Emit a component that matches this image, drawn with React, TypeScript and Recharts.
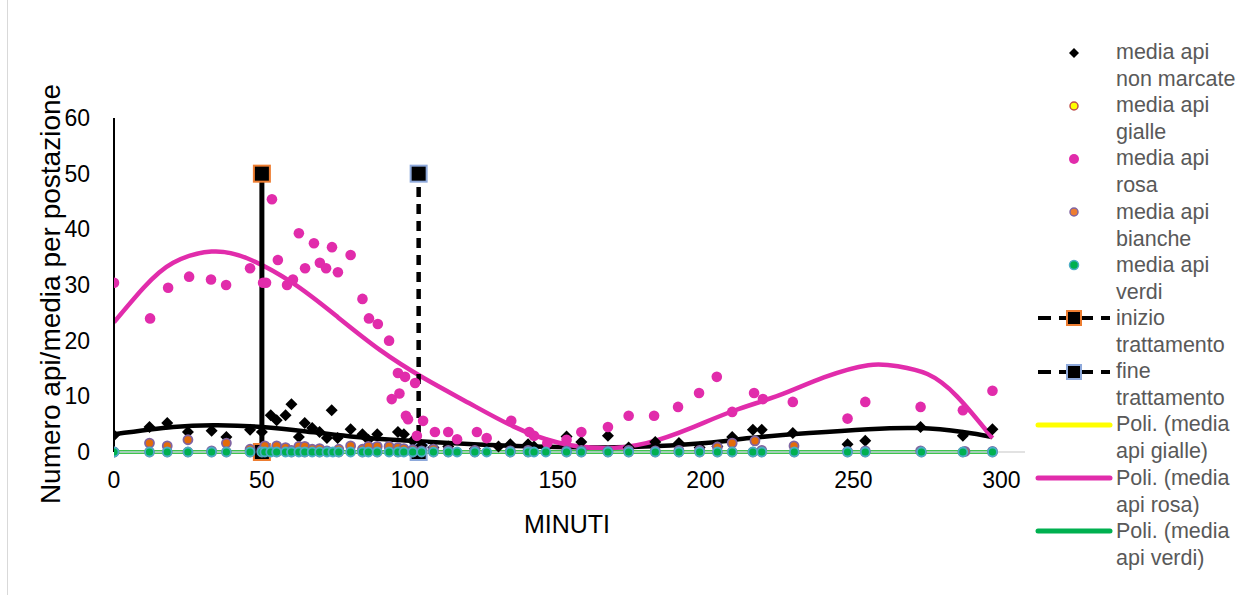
import { ComposedChart, Scatter, Line, XAxis, YAxis, Legend } from 'recharts';

type Pt = [number, number];

const FONT = "'Liberation Sans', Arial, sans-serif";

const xTicks = [0, 50, 100, 150, 200, 250, 300];
const yTicks = [0, 10, 20, 30, 40, 50, 60];
const xTitle = 'MINUTI';
const yTitle = 'Numero api/media per postazione';

const nonMarcate: Pt[] = [
  [0, 3], [12, 4.5], [18, 5.2], [25, 3.6], [33, 3.8], [38, 2.7], [46, 4], [50, 3.6], [53, 6.6], [55, 5.7],
  [58, 6.6], [60, 8.6], [62.5, 2.7], [64.5, 5.2], [67, 4.3], [69.5, 3.6], [72, 2.5], [73.6, 7.5], [75.6, 2.5],
  [80, 4.1], [84, 3.2], [86, 2.2], [89, 3.2], [96, 3.6], [98, 3.2], [101, 2], [104, 1.2], [108, 0.8], [113, 1],
  [122, 0.6], [130, 1], [134, 1.4], [140, 1.4], [142, 1], [153, 2.8], [158, 1.8], [167, 2.9], [174, 0.8],
  [183, 1.8], [191, 1.6], [198, 0.8], [204, 1], [209, 2.7], [216, 4], [219, 4], [229.5, 3.4], [248, 1.4],
  [254, 2], [272.7, 4.5], [287, 2.9], [297, 4.1],
];

const rosa: Pt[] = [
  [0, 30.4], [12.2, 24], [18.3, 29.5], [25.4, 31.5], [32.8, 31], [37.9, 30], [46, 33], [50.4, 30.4], [51.4, 30.4],
  [53.4, 45.4], [55.4, 34.5], [58.5, 30], [60.5, 31], [62.5, 39.3], [64.6, 33], [67.6, 37.5], [69.6, 34],
  [71.7, 33], [73.7, 36.8], [75.7, 32.3], [80, 35.4], [84, 27.5], [86.2, 24], [89.2, 23], [93, 20], [93.9, 9.5],
  [96.5, 10.5], [96, 14.2], [98.4, 13.5], [98.7, 6.5], [99.4, 5.9], [101.8, 12.4], [102.4, 2.9], [104.5, 5.6],
  [108.5, 3.6], [113, 3.6], [116, 2.3], [122.7, 3.6], [126, 2.5], [134.3, 5.6], [140.4, 3.6], [142, 2.9],
  [146.5, 1.6], [153, 2.2], [158, 3.6], [167, 4.5], [174, 6.5], [182.6, 6.5], [190.7, 8.1], [197.8, 10.6],
  [203.8, 13.5], [209, 7.2], [216.4, 10.6], [219.4, 9.5], [229.5, 9], [248, 6], [254, 9], [272.7, 8.1],
  [287, 7.5], [297, 11],
];

const bianche: Pt[] = [
  [0, 0], [12, 1.6], [18, 1.1], [25, 2.2], [33, 0.2], [38, 1.6], [46, 0.5], [50, 0.3], [51, 1.1], [55, 1.1],
  [58, 0.8], [60, 0.3], [62.5, 1], [64.5, 1], [67, 0.5], [69.5, 0.6], [72, 0.2], [76, 0.5], [80, 1.1], [84, 0.5],
  [86, 1], [89, 1], [93, 1], [96, 0.8], [98, 0.6], [101, 0.4], [104, 0.2], [108, 0.5], [113, 0.3], [122, 0.3],
  [134, 0.2], [140, 0.3], [153, 0.2], [158, 0.3], [167, 0.2], [174, 0.3], [183, 0.2], [191, 0.3], [198, 0.3],
  [204, 0.9], [209, 1.6], [216.7, 2], [219, 0.3], [229.9, 1.1], [248, 0.1], [254, 0.2], [272.7, 0.2],
  [287.7, 0.1], [297, 0.1],
];

const gialle: Pt[] = [
  [0, 0], [12, 0], [18, 0], [25, 0], [33, 0], [38, 0], [46, 0], [50, 0], [55, 0], [60, 0], [64.5, 0], [69.5, 0],
  [76, 0], [84, 0], [89, 0], [96, 0], [101, 0], [108, 0], [113, 0], [122, 0], [134, 0], [140, 0], [153, 0],
  [158, 0], [167, 0], [174, 0], [183, 0], [191, 0], [198, 0], [204, 0], [209, 0], [216, 0], [219, 0], [230, 0],
  [248, 0], [254, 0], [273, 0], [287, 0], [297, 0],
];

const verdi: Pt[] = [
  [0, 0], [12, 0], [18, 0], [25, 0], [33, 0], [38, 0], [46, 0], [50, 0], [51, 0], [53, 0], [55, 0], [58, 0],
  [60, 0], [62.5, 0], [64.5, 0], [67, 0], [69.5, 0], [72, 0], [74, 0], [76, 0], [80, 0], [84, 0], [86, 0],
  [89, 0], [93, 0], [96, 0], [98, 0], [101, 0], [104, 0], [108, 0], [113, 0], [116, 0], [122, 0], [126, 0],
  [134, 0], [140, 0], [142, 0], [146, 0], [153, 0], [158, 0], [167, 0], [174, 0], [183, 0], [191, 0], [198, 0],
  [204, 0], [209, 0], [216, 0], [219, 0], [230, 0], [248, 0], [254, 0], [273, 0], [287, 0], [297, 0],
];

const inizio: Pt[] = [[50, 0], [50, 50]];
const fine: Pt[] = [[103, 0], [103, 50]];

// trend lines
const trendNonMarcate: Pt[] = [
  [0, 3.2], [20, 4.5], [35, 4.8], [50, 4.5], [65, 3.7], [80, 2.8], [100, 2], [125, 1.3], [150, 0.9],
  [175, 0.9], [200, 1.6], [215, 2.5], [235, 3.4], [255, 4.1], [272, 4.3], [287, 3.6], [297, 2.7],
];
const trendGialle: Pt[] = [[0, 0], [150, 0], [297, 0]];
const trendRosa: Pt[] = [
  [0, 23.3], [10, 29.5], [20, 34], [33, 36], [45, 34.8], [60, 30.5], [75, 24.5], [90, 18.3], [105, 13.2],
  [120, 8.8], [135, 4.6], [150, 1.7], [165, 0.7], [180, 1.6], [195, 4.3], [210, 7.5], [225, 10.2], [240, 13.4],
  [255, 15.6], [265, 15.4], [275, 14], [285, 10], [297, 2.5],
];
const trendVerdi: Pt[] = [[0, 0], [150, 0], [297, 0]];

const legendLabels: [string, string][] = [
  ['media api', 'non marcate'],
  ['media api', 'gialle'],
  ['media api', 'rosa'],
  ['media api', 'bianche'],
  ['media api', 'verdi'],
  ['inizio', 'trattamento'],
  ['fine', 'trattamento'],
  ['Poli. (media', 'api gialle)'],
  ['Poli. (media', 'api rosa)'],
  ['Poli. (media', 'api verdi)'],
];

const PINK = '#E12CAB';
const GREEN = '#00B050';

const toXY = (pts: Pt[]) => pts.map(([x, y]) => ({ x, y }));

const diamond = (s: number) => (p: any) => (
  <polygon
    points={`${p.cx},${p.cy - s} ${p.cx + s},${p.cy} ${p.cx},${p.cy + s} ${p.cx - s},${p.cy}`}
    fill="#000"
  />
);
const dot = (fill: string, stroke: string, r: number, sw: number) => (p: any) => (
  <circle cx={p.cx} cy={p.cy} r={r} fill={fill} stroke={stroke} strokeWidth={sw} />
);
const square = (stroke: string) => (p: any) => (
  <rect x={p.cx - 8} y={p.cy - 8} width={16} height={16} fill="#000" stroke={stroke} strokeWidth={2} />
);

function LegendIcon({ i }: { i: number }) {
  const dash = (c: string) => (
    <>
      <line x1={4} y1={13} x2={76} y2={13} stroke="#000" strokeWidth={4} strokeDasharray="13 8" />
      <rect x={33} y={6} width={14} height={14} fill="#000" stroke={c} strokeWidth={2} />
    </>
  );
  const icons = [
    <polygon key="a" points="40,8 45,13 40,18 35,13" fill="#000" />,
    <circle key="b" cx={40} cy={13} r={4} fill="#FFFF00" stroke="#C0504D" strokeWidth={1.5} />,
    <circle key="c" cx={40} cy={13} r={5} fill={PINK} />,
    <circle key="d" cx={40} cy={13} r={4} fill="#ED7D31" stroke="#8064A2" strokeWidth={1.5} />,
    <circle key="e" cx={40} cy={13} r={4.5} fill={GREEN} stroke="#4BACC6" strokeWidth={1.5} />,
    dash('#ED7D31'),
    dash('#8EA9DB'),
    <line key="h" x1={4} y1={13} x2={76} y2={13} stroke="#FFFF00" strokeWidth={5} strokeLinecap="round" />,
    <line key="i" x1={4} y1={13} x2={76} y2={13} stroke={PINK} strokeWidth={5} strokeLinecap="round" />,
    <line key="j" x1={4} y1={13} x2={76} y2={13} stroke={GREEN} strokeWidth={5} strokeLinecap="round" />,
  ];
  return (
    <svg width={80} height={26} style={{ display: 'block', overflow: 'visible' }}>
      {icons[i]}
    </svg>
  );
}

function LegendBox() {
  return (
    <div style={{ fontFamily: FONT, fontSize: 21.5, color: '#595959', lineHeight: '27px' }}>
      {legendLabels.map(([a, b], i) => (
        <div key={i} style={{ display: 'flex', alignItems: 'flex-start', height: 53.2 }}>
          <div style={{ width: 82, height: 27, display: 'flex', alignItems: 'center' }}>
            <LegendIcon i={i} />
          </div>
          <div style={{ whiteSpace: 'nowrap' }}>
            <div>{a}</div>
            <div>{b}</div>
          </div>
        </div>
      ))}
    </div>
  );
}

export default function App() {
  return (
    <div style={{ position: 'absolute', left: 0, top: 0, width: 1255, height: 595, background: '#fff' }}>
      <div style={{ position: 'absolute', left: 7, top: 0, width: 1, height: 595, background: '#d9d9d9' }} />
      <ComposedChart width={1255} height={595} margin={{ top: 118, right: 230, bottom: 103, left: 54 }}>
        <XAxis
          type="number"
          dataKey="x"
          domain={[0, 308]}
          ticks={xTicks}
          allowDataOverflow
          height={40}
          tickSize={0}
          tickMargin={20}
          tickLine={false}
          axisLine={{ stroke: '#d9d9d9', strokeWidth: 1.5 }}
          tick={{ fill: '#000', fontSize: 23, fontFamily: FONT }}
          label={{
            value: xTitle,
            content: () => (
              <text x={567} y={524} textAnchor="middle" dominantBaseline="central" fontSize={25} fontFamily={FONT} fill="#000">
                {xTitle}
              </text>
            ),
          }}
        />
        <YAxis
          type="number"
          dataKey="y"
          domain={[0, 60]}
          ticks={yTicks}
          width={60}
          tickSize={0}
          tickMargin={24}
          tickLine={false}
          axisLine={{ stroke: '#000', strokeWidth: 2 }}
          tick={{ fill: '#000', fontSize: 23, fontFamily: FONT }}
          label={{
            value: yTitle,
            content: () => (
              <text
                x={50}
                y={294}
                transform="rotate(-90 50 294)"
                textAnchor="middle"
                dominantBaseline="central"
                fontSize={28}
                fontFamily={FONT}
                fill="#000"
              >
                {yTitle}
              </text>
            ),
          }}
        />
        <Legend
          layout="vertical"
          align="center"
          verticalAlign="middle"
          wrapperStyle={{ left: 1034, top: 39, width: 221 }}
          content={() => <LegendBox />}
        />

        <Scatter name="inizio trattamento" data={toXY(inizio)} line={{ stroke: '#000', strokeWidth: 5 }} lineType="joint" shape={square('#ED7D31')} isAnimationActive={false} />
        <Scatter name="fine trattamento" data={toXY(fine)} line={{ stroke: '#000', strokeWidth: 4.5, strokeDasharray: '10 7' }} lineType="joint" shape={square('#8EA9DB')} isAnimationActive={false} />

        <Scatter name="media api non marcate" data={toXY(nonMarcate)} shape={diamond(6)} isAnimationActive={false} />
        <Scatter name="media api gialle" data={toXY(gialle)} shape={dot('#FFFF00', '#C0504D', 4.5, 1.5)} isAnimationActive={false} />
        <Scatter name="media api rosa" data={toXY(rosa)} shape={dot(PINK, PINK, 5.3, 0)} isAnimationActive={false} />
        <Scatter name="media api bianche" data={toXY(bianche)} shape={dot('#E36C0A', '#8064A2', 4.5, 1.8)} isAnimationActive={false} />
        <Scatter name="media api verdi" data={toXY(verdi)} shape={dot(GREEN, '#4BACC6', 4.5, 1.8)} isAnimationActive={false} />

        <Line data={toXY(trendNonMarcate)} dataKey="y" type="natural" stroke="#000" strokeWidth={4.5} dot={false} activeDot={false} isAnimationActive={false} />
        <Line data={toXY(trendGialle)} dataKey="y" type="linear" stroke="#FFFF00" strokeWidth={3.5} dot={false} activeDot={false} isAnimationActive={false} />
        <Line data={toXY(trendRosa)} dataKey="y" type="natural" stroke={PINK} strokeWidth={4.5} dot={false} activeDot={false} isAnimationActive={false} />
        <Line data={toXY(trendVerdi)} dataKey="y" type="linear" stroke={GREEN} strokeWidth={3.5} dot={false} activeDot={false} isAnimationActive={false} />
      </ComposedChart>
    </div>
  );
}
